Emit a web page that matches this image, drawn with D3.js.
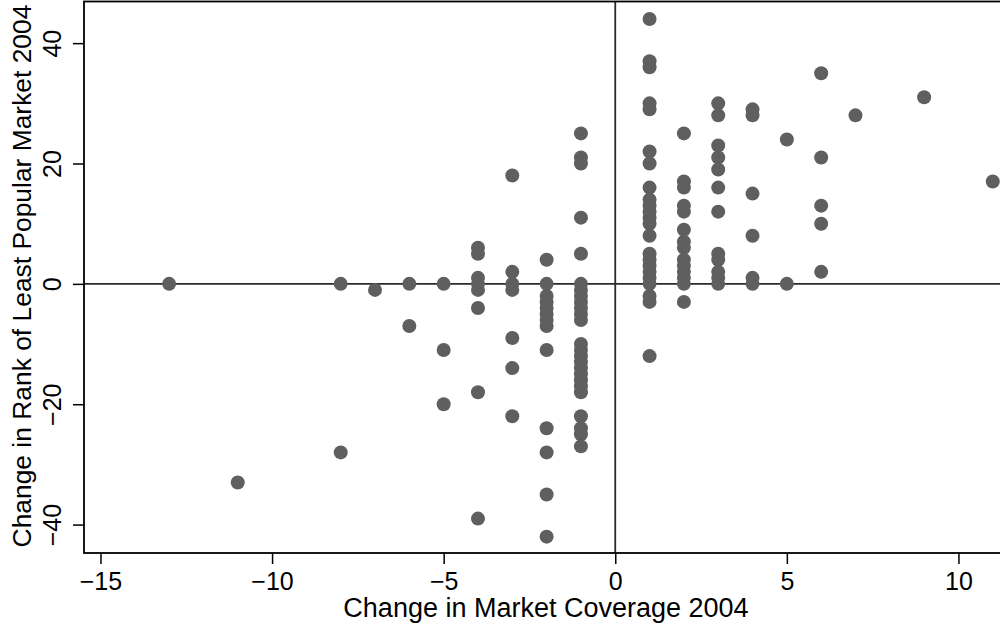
<!DOCTYPE html>
<html>
<head>
<meta charset="utf-8">
<style>
body { margin: 0; background: #fff; }
svg { display: block; }
text { font-family: "Liberation Sans", Arial, sans-serif; fill: #000; }
.dot { fill: #5f5f5f; }
.ref { stroke: #2a2a2a; stroke-width: 1.8px; }
</style>
</head>
<body>
<svg width="1000" height="633"></svg>
<script src="https://d3js.org/d3.v7.min.js"></script>
<script>
// points, one column of y values per x value
var coverage = [-13, -11, -8, -7, -6, -5, -4, -3, -2, -1, 1, 2, 3, 4, 5, 6, 7, 9, 11];
var rankChange = [
  [0],
  [-33],
  [0, -28],
  [-1],
  [0, -7],
  [0, -11, -20],
  [6, 5, 1, 0, -1, -4, -18, -39],
  [18, 2, 0, -1, -9, -14, -22],
  [4, 0, -2, -3, -4, -5, -6, -7, -11, -24, -28, -35, -42],
  [25, 21, 20, 11, 5, 0, -1, -2, -3, -4, -5, -6, -10, -11, -12, -13, -14, -15, -16, -17, -18, -22, -24, -25, -27],
  [44, 37, 36, 30, 29, 22, 20, 16, 14, 13, 12, 11, 10, 8, 5, 4, 3, 2, 1, 0, -2, -3, -12],
  [25, 17, 16, 13, 12, 9, 7, 6, 4, 3, 2, 1, 0, -3],
  [30, 28, 23, 21, 19, 16, 12, 5, 4, 2, 1, 0],
  [29, 28, 15, 8, 1, 0],
  [24, 0],
  [35, 21, 13, 10, 2],
  [28],
  [31],
  [17]
];
var xTicks = [-15, -10, -5, 0, 5, 10];
var yTicks = [-40, -20, 0, 20, 40];

var points = [];
coverage.forEach(function(cx, i){
  rankChange[i].forEach(function(v){
    points.push({x: cx, y: v});
  });
});

var svg = d3.select("svg");
var plotLeft = 84, plotRight = 1001, plotTop = 1.5, plotBottom = 553;

var x = d3.scaleLinear().domain([-15.48, 11.24]).range([plotLeft, plotRight]);
var y = d3.scaleLinear().domain([-44.72, 46.92]).range([plotBottom, plotTop]);

// zero lines
svg.append("line").attr("class", "ref")
  .attr("x1", plotLeft).attr("x2", plotRight)
  .attr("y1", y(0)).attr("y2", y(0));
svg.append("line").attr("class", "ref")
  .attr("x1", x(0)).attr("x2", x(0))
  .attr("y1", plotTop).attr("y2", plotBottom);

svg.append("g").selectAll("circle")
  .data(points)
  .enter().append("circle")
    .attr("class", "dot")
    .attr("cx", function(d){ return x(d.x); })
    .attr("cy", function(d){ return y(d.y); })
    .attr("r", 7);

// frame
svg.append("rect")
  .attr("x", plotLeft).attr("y", plotTop)
  .attr("width", plotRight - plotLeft).attr("height", plotBottom - plotTop)
  .attr("fill", "none").attr("stroke", "#000").attr("stroke-width", 1.8);

var xAxis = svg.append("g")
  .attr("transform", "translate(0," + plotBottom + ")")
  .call(d3.axisBottom(x).tickValues(xTicks).tickSize(11).tickPadding(0));
xAxis.select(".domain").remove();
xAxis.selectAll("line").attr("stroke", "#000").attr("stroke-width", 1.5);
xAxis.selectAll("text")
  .attr("y", 36.5).attr("dy", 0)
  .style("font-size", "25px")
  .style("font-family", "'Liberation Sans', Arial, sans-serif");

var yAxis = svg.append("g")
  .attr("transform", "translate(" + plotLeft + ",0)")
  .call(d3.axisLeft(y).tickValues(yTicks).tickSize(11));
yAxis.select(".domain").remove();
yAxis.selectAll("line").attr("stroke", "#000").attr("stroke-width", 1.5);
yAxis.selectAll("text")
  .attr("x", 0).attr("dy", 0)
  .attr("text-anchor", "middle")
  .attr("transform", "translate(-23,0) rotate(-90)")
  .style("font-size", "25px")
  .style("font-family", "'Liberation Sans', Arial, sans-serif");

svg.append("text")
  .attr("x", 546).attr("y", 617)
  .attr("text-anchor", "middle")
  .style("font-size", "27px")
  .text("Change in Market Coverage 2004");

svg.append("text")
  .attr("transform", "translate(31,276) rotate(-90)")
  .attr("text-anchor", "middle")
  .style("font-size", "26.4px")
  .text("Change in Rank of Least Popular Market 2004");
</script>
</body>
</html>
